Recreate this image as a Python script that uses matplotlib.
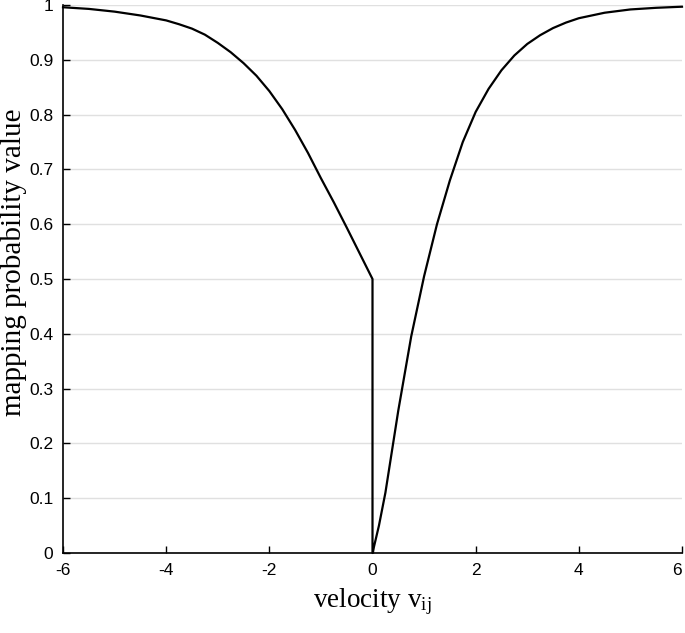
import matplotlib
matplotlib.use("Agg")
import matplotlib.pyplot as plt
import numpy as np

plt.rcParams['axes.unicode_minus'] = False
plt.rcParams['mathtext.fontset'] = 'stix'

# values
v_left = [-6.0, -5.5, -5.0, -4.5, -4.0, -3.75, -3.5, -3.25, -3.0, -2.75, -2.5, -2.25,
          -2.0, -1.75, -1.5, -1.25, -1.0, -0.75, -0.5, -0.25, 0.0]
p_left = [0.996, 0.993, 0.988, 0.981, 0.972, 0.965, 0.957, 0.946, 0.931, 0.914, 0.894,
          0.871, 0.843, 0.810, 0.772, 0.730, 0.684, 0.640, 0.594, 0.547, 0.5]
v_right = [0.0, 0.125, 0.25, 0.5, 0.75, 1.0, 1.25, 1.5, 1.75, 2.0, 2.25, 2.5, 2.75,
           3.0, 3.25, 3.5, 3.75, 4.0, 4.5, 5.0, 5.5, 6.0]
p_right = [0.0, 0.05, 0.11, 0.26, 0.395, 0.505, 0.60, 0.68, 0.75, 0.805, 0.847,
           0.881, 0.908, 0.929, 0.945, 0.958, 0.968, 0.976, 0.986, 0.992, 0.995, 0.997]

x_ticks = [-6, -4, -2, 0, 2, 4, 6]
y_ticks = [0, 0.1, 0.2, 0.3, 0.4, 0.5, 0.6, 0.7, 0.8, 0.9, 1]
y_labels = ['0', '0.1', '0.2', '0.3', '0.4', '0.5', '0.6', '0.7', '0.8', '0.9', '1']

fig = plt.figure(figsize=(6.85, 6.33), dpi=100)
ax = fig.add_axes([0.092, 0.1264, 0.9036, 0.8656])

v = v_left + v_right
p = p_left + p_right
ax.plot(v, p, color='black', lw=1.6, clip_on=False, zorder=3, solid_joinstyle='round')

ax.set_xlim(-6, 6)
ax.set_ylim(0, 1)
ax.set_xticks(x_ticks)
ax.set_xticklabels([str(t) for t in x_ticks])
ax.set_yticks(y_ticks)
ax.set_yticklabels(y_labels)
ax.yaxis.grid(True, color='#e0e0e0', lw=1)
ax.set_axisbelow(True)

for s in ['top', 'right']:
    ax.spines[s].set_visible(False)
for s in ['left', 'bottom']:
    ax.spines[s].set_linewidth(1.2)

ax.tick_params(direction='in', length=5, width=1, labelsize=12.5, pad=7)
for lab in ax.get_xticklabels() + ax.get_yticklabels():
    lab.set_family('Liberation Sans')
ax.get_xticklabels()[-1].set_horizontalalignment('right')

ax.set_xlabel(r'velocity $\mathregular{v_{ij}}$', family='Liberation Serif', fontsize=19.5, labelpad=6)
ax.set_ylabel('mapping probability value', family='Liberation Serif', fontsize=21)
ax.yaxis.set_label_coords(-0.059, 0.53)

fig.savefig('out.png', dpi=100)
